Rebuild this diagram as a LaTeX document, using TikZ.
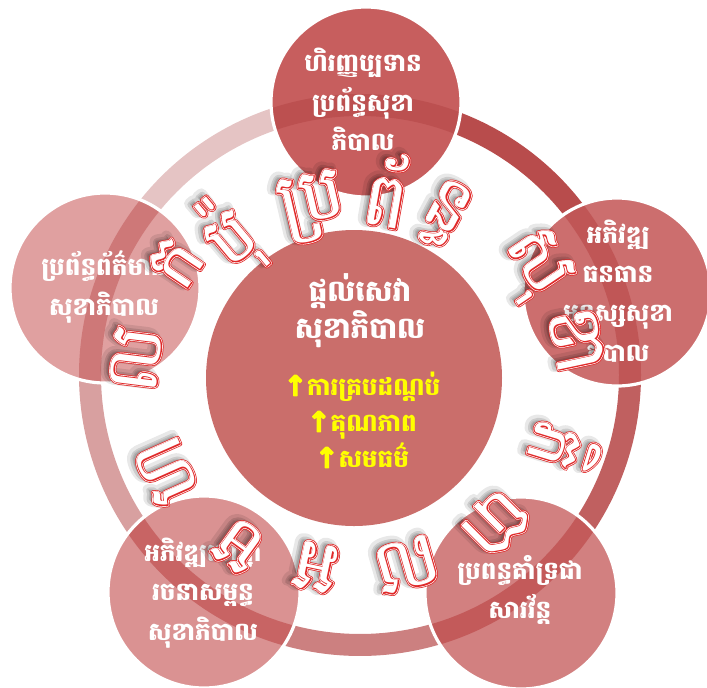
\documentclass[tikz,border=0pt]{standalone}
\usepackage{fontspec}
\newfontfamily\kh[Script=Khmer]{Battambang}
\newfontfamily\djv{DejaVu Sans}
\definecolor{segA}{HTML}{B84C4C}
\definecolor{segB}{HTML}{C06060}
\definecolor{segC}{HTML}{CC8080}
\definecolor{segD}{HTML}{D8A0A0}
\definecolor{segE}{HTML}{E5C4C4}
\definecolor{cTop}{HTML}{C75E5E}
\definecolor{cRight}{HTML}{CC6E6E}
\definecolor{cBR}{HTML}{D28080}
\definecolor{cBL}{HTML}{DA9292}
\definecolor{cLeft}{HTML}{E0A0A0}
\definecolor{cMid}{HTML}{CA6E6B}
\definecolor{bTop}{HTML}{BC5050}
\definecolor{bRight}{HTML}{C05656}
\definecolor{bBR}{HTML}{C35A5A}
\definecolor{bBL}{HTML}{C86464}
\definecolor{bLeft}{HTML}{CE7878}
\definecolor{gred}{HTML}{E02828}
\definecolor{gpink}{HTML}{F6D4D4}
\definecolor{kyellow}{HTML}{FFFF00}
\newcommand\bigkh{\kh\fontsize{56}{56}\selectfont}
\newcommand\trm[2]{\special{pdf:literal direct #1 Tr #2 w 1 j}}
\newcommand\kgl[5]{%
  \node[name=#1s, rotate=#4, text=black, opacity=0.09, font=\bigkh] at (#2-5,#3-3)
    {\trm{2}{8}#5\trm{0}{1}};
  \node[name=#1t, rotate=#4, text=black, opacity=0.12, font=\bigkh] at (#2-4,#3-2)
    {\trm{2}{4.5}#5\trm{0}{1}};
  \node[name=#1a, rotate=#4, text=gred, font=\bigkh] at (#2,#3)
    {\trm{2}{3.4}#5\trm{0}{1}};
  \node[name=#1b, rotate=#4, text=white, font=\bigkh] at (#2,#3)
    {\trm{2}{2.3}#5\trm{0}{1}};
  \node[name=#1c, rotate=#4, text=gred, font=\bigkh] at (#2,#3)
    {\trm{2}{1.3}#5\trm{0}{1}};
  \node[name=#1, rotate=#4, text=white, font=\bigkh] at (#2,#3)
    {\trm{0}{1}#5};
}
\newcommand\uparr{{\djv\bfseries\fontsize{21}{21}\selectfont\trm{2}{0.9}↑\trm{0}{1}}}
\tikzset{
  seg/.style={line width=16.5pt},
  ctext/.style={align=center, text=white, font=\kh\bfseries\fontsize{18.5}{29.5}\selectfont},
  mtext/.style={align=center, text=white, font=\kh\bfseries\fontsize{22}{28}\selectfont},
  ytext/.style={align=center, text=kyellow, font=\kh\bfseries\fontsize{18.5}{27}\selectfont},
  rim/.style={draw=white, line width=2.4pt}
}
\begin{document}
\begin{tikzpicture}[x=0.75pt,y=-0.75pt]
\useasboundingbox (0,0) rectangle (707,687);
\coordinate (rc) at (360,375);
% ring segments
\draw[seg, segA] (rc) ++(-88.7:270) arc[start angle=-88.7, end angle=-17.9, radius=270];
\draw[seg, segB] (rc) ++(-17.9:270) arc[start angle=-17.9, end angle=53.6, radius=270];
\draw[seg, segC] (rc) ++(53.6:270) arc[start angle=53.6, end angle=125.7, radius=270];
\draw[seg, segD] (rc) ++(125.7:270) arc[start angle=125.7, end angle=198.8, radius=270];
\draw[seg, segE] (rc) ++(198.8:270) arc[start angle=198.8, end angle=271.3, radius=270];
% outer circles
\foreach \cx/\cy/\r/\fc/\bc in {366/102/95/cTop/bTop, 617/292/94/cRight/bRight, 521/593/96/cBR/bBR, 204/592/96/cBL/bBL, 105/288/95/cLeft/bLeft}{
  \fill[\fc] (\cx,\cy) circle[radius=\r];
  \begin{scope}
    \clip (\cx,\cy) circle[radius=\r];
    \draw[seg, \bc] (rc) circle[radius=270];
  \end{scope}
  \draw[rim] (\cx,\cy) circle[radius=\r];
}
% centre circle
\node[name=mid, circle, fill=cMid, minimum size=296*0.75pt, inner sep=0pt] at (354,378) {};
% circle texts
\node[ctext, name=ttop] at (363,100) {ហិរញ្ញប្បទាន\\ប្រព័ន្ធសុខា\\ភិបាល};
\node[ctext, name=tright] at (618,291) {អភិវឌ្ឍ\\ធនធាន\\មនុស្សសុខា\\ភិបាល};
\node[ctext, name=tbr] at (520,590) {ប្រពន្ធគាំទ្រជា\\សារវ័ន្ត};
\node[ctext, name=tbl] at (203,593) {អភិវឌ្ឍហេដ្ឋា\\រចនាសម្ពន្ធ\\សុខាភិបាល};
\node[ctext, name=tleft] at (104,287) {ប្រព័ន្ធព័ត៌មាន\\សុខាភិបាល};
\node[mtext, name=tmid] at (360,311) {ផ្ដល់សេវា\\សុខាភិបាល};
\node[ytext, name=ymid] at (362,420) {\uparr ការគ្របដណ្ដប់\\\uparr គុណភាព\\\uparr សមធម៌};
% curved outlined lettering
\kgl{g1}{230}{237}{40}{ប៉ុ}
\kgl{g2}{176}{263}{56}{ក}
\kgl{g3}{136}{359}{83}{ល}
\kgl{g4}{166}{471}{114}{ហ}
\kgl{g5}{238}{546}{144}{ម}
\kgl{g6}{315}{567}{168}{អ}
\kgl{g7}{407}{565}{-164}{ល}
\kgl{g8}{495}{523}{-135}{បា}
\kgl{g9}{565}{450}{-107}{ភិ}
\kgl{g10}{577}{340}{-78}{ខា}
\kgl{g11}{533}{265}{-56}{សុ}
\kgl{g12}{445}{215}{-28}{ន្ធ}
\kgl{g13}{388}{190}{-10}{ព័}
\kgl{g14}{313}{207}{13}{ប្រ}
\end{tikzpicture}
\end{document}
